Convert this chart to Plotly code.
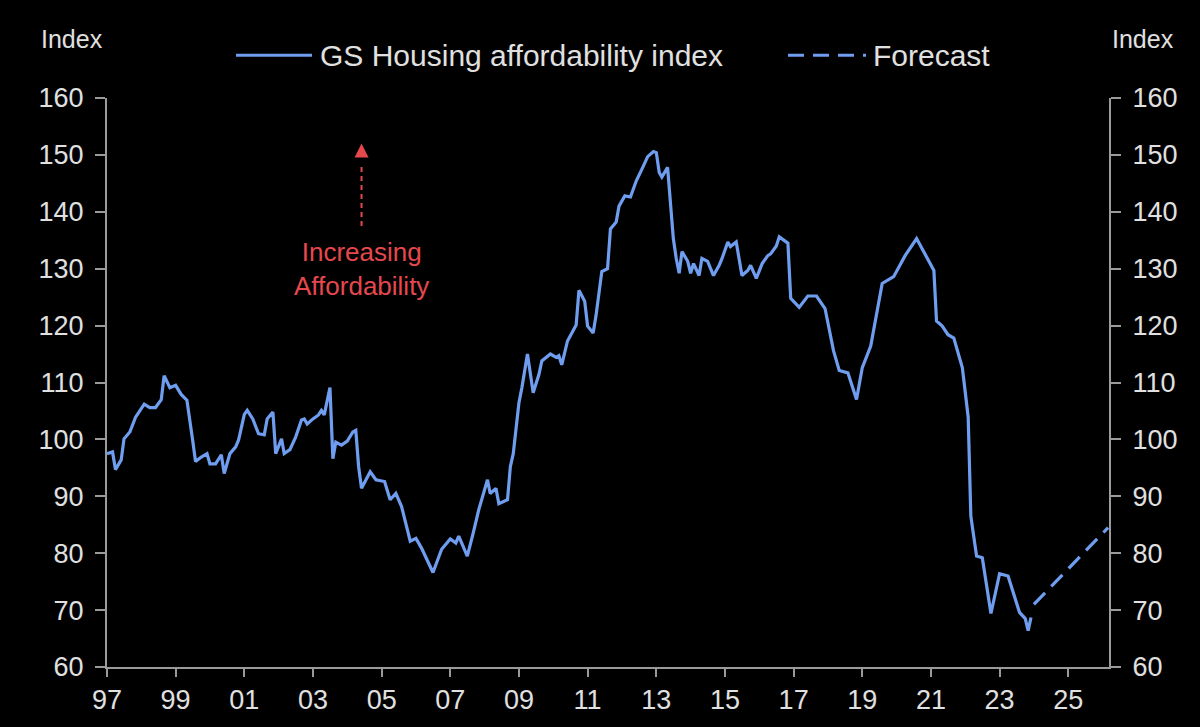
import plotly.graph_objects as go

# GS housing affordability index (monthly points)
dates = [
    "1997-01", "1997-03", "1997-04", "1997-06", "1997-07", "1997-09", "1997-11",
    "1998-02", "1998-04", "1998-06", "1998-08", "1998-09", "1998-11",
    "1999-01", "1999-03", "1999-05", "1999-07", "1999-08", "1999-10", "1999-12",
    "2000-01", "2000-03", "2000-05", "2000-06", "2000-08", "2000-10", "2000-11",
    "2001-01", "2001-02", "2001-04", "2001-06", "2001-08", "2001-09", "2001-11", "2001-12",
    "2002-02", "2002-03", "2002-05", "2002-07", "2002-09", "2002-10", "2002-11",
    "2003-01", "2003-03", "2003-04", "2003-05", "2003-07", "2003-08", "2003-09", "2003-11",
    "2004-01", "2004-03", "2004-04", "2004-05", "2004-06", "2004-09", "2004-11",
    "2005-02", "2005-04", "2005-06", "2005-08", "2005-11",
    "2006-01", "2006-03", "2006-07", "2006-10",
    "2007-01", "2007-03", "2007-04", "2007-07", "2007-09", "2007-11",
    "2008-02", "2008-03", "2008-05", "2008-06", "2008-09", "2008-10", "2008-11",
    "2009-01", "2009-02", "2009-04", "2009-06", "2009-08", "2009-09", "2009-12",
    "2010-02", "2010-03", "2010-04", "2010-06", "2010-09", "2010-10", "2010-12",
    "2011-01", "2011-03", "2011-04", "2011-06", "2011-08", "2011-09", "2011-11", "2011-12",
    "2012-02", "2012-04", "2012-06", "2012-08", "2012-10", "2012-12",
    "2013-01", "2013-02", "2013-03", "2013-05", "2013-06", "2013-07", "2013-08",
    "2013-09", "2013-10", "2013-12",
    "2014-01", "2014-02", "2014-04", "2014-05", "2014-07", "2014-09", "2014-11", "2014-12",
    "2015-02", "2015-03", "2015-05", "2015-07", "2015-09", "2015-10", "2015-12",
    "2016-02", "2016-04", "2016-05", "2016-07", "2016-08", "2016-11", "2016-12",
    "2017-03", "2017-06", "2017-09", "2017-12",
    "2018-03", "2018-05", "2018-08", "2018-11",
    "2019-01", "2019-04", "2019-08", "2019-12",
    "2020-04", "2020-08",
    "2021-02", "2021-03", "2021-05", "2021-07", "2021-09", "2021-12",
    "2022-02", "2022-03", "2022-05", "2022-07", "2022-10",
    "2023-01", "2023-04", "2023-06", "2023-08", "2023-10", "2023-11", "2023-12",
]
index_values = [
    97.5, 97.8, 94.7, 96.4, 100.1, 101.3, 103.9,
    106.2, 105.6, 105.6, 107.0, 111.2, 109.1,
    109.5, 107.9, 106.9, 99.9, 96.1, 96.9, 97.5,
    95.7, 95.7, 97.3, 94.0, 97.5, 98.7, 99.9,
    104.4, 105.1, 103.6, 101.0, 100.8, 103.6, 104.8, 97.5,
    100.1, 97.5, 98.2, 100.4, 103.4, 103.6, 102.7,
    103.6, 104.3, 105.1, 104.3, 109.1, 96.6, 99.5, 99.0,
    99.7, 101.3, 101.6, 95.2, 91.4, 94.3, 92.9,
    92.6, 89.4, 90.5, 88.2, 82.1,
    82.6, 80.9, 76.6, 80.7,
    82.5, 81.8, 83.0, 79.5, 83.5, 87.7,
    92.9, 90.5, 91.4, 88.7, 89.4, 95.2, 97.5,
    106.5, 109.1, 115.0, 108.2, 111.4, 113.8, 115.0,
    114.4, 114.7, 113.1, 117.3, 120.1, 126.2, 124.3,
    119.9, 118.7, 121.8, 129.5, 130.0, 137.0, 138.2, 141.0,
    142.8, 142.6, 145.4, 147.5, 149.7, 150.6,
    150.4, 146.9, 146.1, 147.8, 142.2, 135.3, 131.8,
    129.2, 133.0, 131.3,
    129.2, 130.9, 128.8, 131.8, 131.3, 128.8, 130.6, 131.8,
    134.7, 133.9, 134.7, 128.8, 129.7, 130.6, 128.3,
    130.9, 132.3, 132.6, 134.0, 135.6, 134.5, 124.8,
    123.2, 125.2, 125.2, 123.0,
    115.6, 112.1, 111.7, 107.0,
    112.6, 116.4, 127.4, 128.6,
    132.3, 135.3,
    129.7, 120.8, 119.9, 118.4, 117.8, 112.6,
    103.9, 86.5, 79.5, 79.2, 69.4,
    76.4, 76.0, 73.0, 69.6, 68.5, 66.4, 68.7,
]

forecast_dates = ["2024-01", "2026-03"]
forecast_values = [71.0, 84.5]

tick_years = list(range(1997, 2026, 2))
tick_labels = [str(y)[-2:] for y in tick_years]
y_ticks = list(range(60, 161, 10))

blue = "#6f9def"
grey_text = "#e0e0e0"
axis_grey = "#9a9a9a"
red = "#e5484d"
font_family = "Liberation Sans Narrow, Arial Narrow, Liberation Sans, Arial, sans-serif"

# plot area in pixels, used for placing the hand made legend
L, R, T, B = 107, 1109, 98, 672


def px_x(px):
    return (px - L) / (R - L)


def px_y(py):
    return (B - py) / (B - T)


fig = go.Figure()
fig.add_trace(go.Scatter(x=dates, y=index_values, mode="lines",
                         line=dict(color=blue, width=3.2),
                         name="GS Housing affordability index"))
fig.add_trace(go.Scatter(x=forecast_dates, y=forecast_values, mode="lines",
                         line=dict(color=blue, width=3.2, dash="16px,9px"),
                         name="Forecast"))
# invisible trace so the right hand axis is drawn
fig.add_trace(go.Scatter(x=forecast_dates, y=forecast_values, yaxis="y2",
                         mode="lines", line=dict(width=0), hoverinfo="skip",
                         showlegend=False))

axis_style = dict(showline=True, linecolor=axis_grey, linewidth=2,
                  ticks="outside", tickcolor=axis_grey, tickwidth=2,
                  showgrid=False, zeroline=False,
                  tickfont=dict(color=grey_text, size=27, family=font_family))

fig.update_layout(
    width=1200, height=727,
    paper_bgcolor="black", plot_bgcolor="black",
    margin=dict(l=L, r=1200 - R, t=T, b=727 - B),
    showlegend=False,
    xaxis=dict(type="date", range=["1997-01-01", "2026-03-10"],
               tickvals=[f"{y}-01-01" for y in tick_years], ticktext=tick_labels,
               ticklen=8, **axis_style),
    yaxis=dict(range=[60, 160], tickvals=y_ticks, ticklen=10,
               ticklabelstandoff=6, **axis_style),
    yaxis2=dict(range=[60, 160], tickvals=y_ticks, overlaying="y", side="right",
                ticklen=10, ticklabelstandoff=6, **axis_style),
)

# legend drawn by hand
fig.add_shape(type="line", xref="paper", yref="paper",
              x0=px_x(236), x1=px_x(312), y0=px_y(55), y1=px_y(55),
              line=dict(color=blue, width=3))
fig.add_shape(type="line", xref="paper", yref="paper",
              x0=px_x(788), x1=px_x(866), y0=px_y(55), y1=px_y(55),
              line=dict(color=blue, width=3, dash="16px,9px"))
fig.add_annotation(x=px_x(318), y=px_y(55), xref="paper", yref="paper",
                   text="GS Housing affordability index", showarrow=False,
                   xanchor="left", yanchor="middle",
                   font=dict(color=grey_text, size=30, family=font_family))
fig.add_annotation(x=px_x(871), y=px_y(55), xref="paper", yref="paper",
                   text="Forecast", showarrow=False,
                   xanchor="left", yanchor="middle",
                   font=dict(color=grey_text, size=30, family=font_family))
fig.add_annotation(x=px_x(72), y=px_y(38), xref="paper", yref="paper",
                   text="Index", showarrow=False, xanchor="center", yanchor="middle",
                   font=dict(color=grey_text, size=25, family=font_family))
fig.add_annotation(x=px_x(1143), y=px_y(38), xref="paper", yref="paper",
                   text="Index", showarrow=False, xanchor="center", yanchor="middle",
                   font=dict(color=grey_text, size=25, family=font_family))

# red "increasing affordability" arrow
fig.add_shape(type="line", x0="2004-06-01", x1="2004-06-01", y0=137.5, y1=148,
              line=dict(color=red, width=2, dash="5px,4px"))
fig.add_annotation(x="2004-06-01", y=152, ax=0, ay=10, showarrow=True,
                   arrowhead=2, arrowsize=1.4, arrowwidth=2, arrowcolor=red, text="")
fig.add_annotation(x="2004-06-01", y=130, text="Increasing<br>Affordability",
                   showarrow=False, font=dict(color=red, size=26, family=font_family))

fig.write_html("out.html", config={"displayModeBar": False}, post_script=(
    "document.body.style.margin='0';"
    "document.body.style.background='black';"
))
